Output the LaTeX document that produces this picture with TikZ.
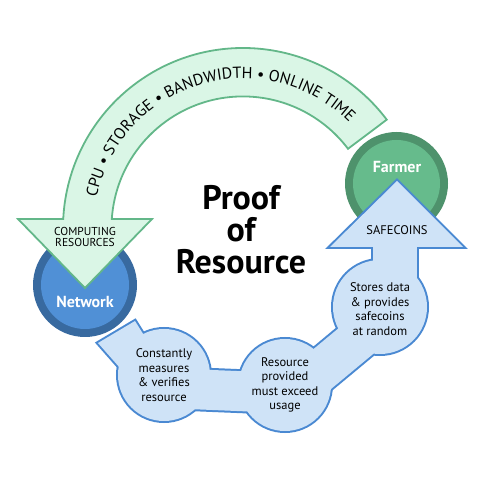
\documentclass[tikz,border=0pt]{standalone}
\usepackage{fontspec}
\setmainfont{PT Sans}
\usetikzlibrary{decorations.text}
\definecolor{bluefill}{RGB}{207,227,247}
\definecolor{blueline}{RGB}{74,137,210}
\definecolor{greenfill}{RGB}{218,246,230}
\definecolor{greenline}{RGB}{99,183,137}
\definecolor{farmring}{RGB}{78,146,108}
\definecolor{farmfill}{RGB}{102,187,140}
\definecolor{netring}{RGB}{56,106,160}
\definecolor{netfill}{RGB}{80,144,214}
\tikzset{
  blueedge/.style={draw=blueline,line width=4pt,line join=miter},
  bluebody/.style={fill=bluefill},
  steptext/.style={font=\fontsize{12.5}{14.5}\selectfont,align=center},
  captext/.style={font=\fontsize{11.5}{11.5}\selectfont,align=center},
  circtext/.style={font=\bfseries\fontsize{16}{16}\selectfont,text=white},
}
\newcommand\bluepieces[1]{%
  \path[#1] (380,173) circle[radius=47];
  \path[#1] (285,95) circle[radius=46];
  \path[#1] (164,105) circle[radius=46];
  \path[#1] (164,112) -- (285,107) -- (285,67) -- (164,72) -- cycle;
  \path[#1] (271.6,96.1) -- (366.6,175.1) -- (393.4,142.9) -- (298.4,63.9) -- cycle;
  \path[#1] (145,143) -- (135,159) -- (98,137) -- (120,112) -- (164,105) -- cycle;
  \path[#1] (373,180) rectangle (417,236);
  \path[#1] (330,233) -- (463,233) -- (397,299) -- cycle;
}
\begin{document}
\begin{tikzpicture}[x=1pt,y=1pt]
\useasboundingbox (0,0) rectangle (480,480);
\fill[netring] (85,195) circle[radius=52];
\fill[netfill] (85,195) circle[radius=44];
\node[circtext] (network) at (85,178) {Network};
\draw[greenline,fill=greenfill,line width=1.8pt]
  (243,252) ++(37:180) arc[start angle=37,end angle=177.1,radius=180]
  -- (18,261) -- (85,192) -- (152,261) -- (111.8,261)
  arc[start angle=176.1,end angle=37,radius=131.5] -- cycle;
\path[decorate,decoration={text along path,text align=center,
  text={|\fontsize{16}{16}\selectfont|CPU • STORAGE • BANDWIDTH • ONLINE TIME}}]
  (243,252) ++(170:149.5) arc[start angle=170,end angle=43,radius=149.5];
\node[captext] (computing) at (85,243) {COMPUTING\\RESOURCES};
\fill[farmring] (396.5,296.5) circle[radius=51.5];
\fill[farmfill] (396.5,296.5) circle[radius=43.5];
\node[circtext] (farmer) at (397,313) {Farmer};
\bluepieces{blueedge}
\bluepieces{bluebody}
\node[captext,font=\fontsize{12.5}{12.5}\selectfont] (safecoins) at (397,250) {SAFECOINS};
\node[steptext] (stores) at (380,171) {Stores data\\\& provides\\safecoins\\at random};
\node[steptext] (provided) at (285,95) {Resource\\provided\\must exceed\\usage};
\node[steptext] (measures) at (164,105) {Constantly\\measures\\\& verifies\\resource};
\node[font=\bfseries\fontsize{34}{32}\selectfont,align=center] (title) at (241,250) {Proof\\of\\Resource};
\end{tikzpicture}
\end{document}
